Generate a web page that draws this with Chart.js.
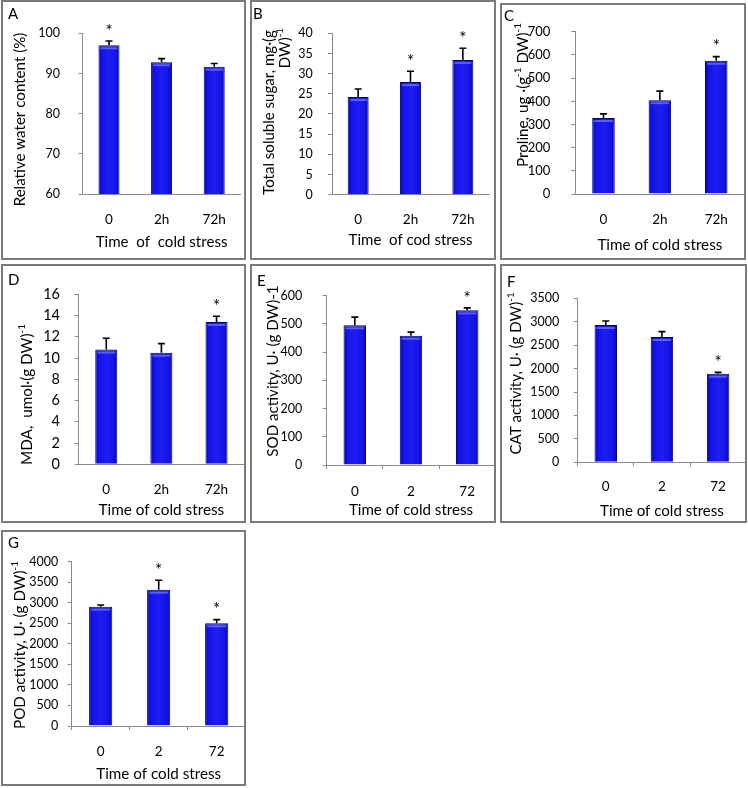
<!DOCTYPE html>
<html><head><meta charset="utf-8">
<script src="https://cdn.jsdelivr.net/npm/chart.js@4.4.1/dist/chart.umd.min.js"></script>
<style>
html,body{margin:0;padding:0;background:#fff;width:748px;height:788px;overflow:hidden;}
.panel{position:absolute;overflow:hidden;}
.frame{position:absolute;box-sizing:border-box;border:2px solid #7a7a7a;pointer-events:none;}
.letter{position:absolute;font-family:Lato,"Open Sans",sans-serif;font-size:15px;color:#000;line-height:1;}
canvas{position:absolute;left:0;top:0;}
</style></head><body>
<script>
// ---------- data ----------
const timeLabelsH = ['0', '2h', '72h'];
const timeLabelsN = ['0', '2', '72'];

const rwcMean = [97.0, 92.8, 91.7];
const rwcErr = [1.1, 0.9, 0.8];
const rwcSig = [true, false, false];
const rwcTicks = [60, 70, 80, 90, 100];

const sugarMean = [24.2, 27.9, 33.4];
const sugarErr = [2.0, 2.7, 2.9];
const sugarSig = [false, true, true];
const sugarTicks = [0, 5, 10, 15, 20, 25, 30, 35, 40];

const prolineMean = [328, 405, 575];
const prolineErr = [18, 39, 18];
const prolineSig = [false, false, true];
const prolineTicks = [0, 100, 200, 300, 400, 500, 600, 700];

const mdaMean = [10.8, 10.5, 13.4];
const mdaErr = [1.07, 0.86, 0.53];
const mdaSig = [false, false, true];
const mdaTicks = [0, 2, 4, 6, 8, 10, 12, 14, 16];

const sodMean = [495, 458, 548];
const sodErr = [29, 13, 9];
const sodSig = [false, false, true];
const sodTicks = [0, 100, 200, 300, 400, 500, 600];

const catMean = [2930, 2674, 1892];
const catErr = [85, 114, 28];
const catSig = [false, false, true];
const catTicks = [0, 500, 1000, 1500, 2000, 2500, 3000, 3500];

const podMean = [2906, 3320, 2500];
const podErr = [40, 227, 89];
const podSig = [false, true, true];
const podTicks = [0, 500, 1000, 1500, 2000, 2500, 3000, 3500, 4000];

// ---------- layout (absolute page coords) ----------
const FAM = 'Lato, "Open Sans", "DejaVu Sans", sans-serif';
const panels = [
  {letter:'A', lp:[8,6], rect:[1,0,245,260], plot:[82.7,33.3,240.5,194],
   cats:timeLabelsH, mean:rwcMean, err:rwcErr, sig:rwcSig, ticks:rwcTicks,
   yTickSize:12.5, yTickPad:18.7, xTickSize:13.5, xLabelY:220, xTicks:false,
   xTitle:'Time  of  cold stress', xTitleW:132, xTitleY:242,
   yTitle:[{segs:[['Relative water content (%)']], cx:20, yb:207, yt:32}]},
  {letter:'B', lp:[253,6], rect:[250,0,246,260], plot:[332,33.3,489,194.7],
   cats:timeLabelsH, mean:sugarMean, err:sugarErr, sig:sugarSig, ticks:sugarTicks,
   yTickSize:12.5, yTickPad:15.3, xTickSize:13.5, xLabelY:220, xTicks:false,
   xTitle:'Time  of cod stress', xTitleW:124, xTitleY:240,
   yTitle:[{segs:[['Total soluble sugar, mg·(g']], cx:268.7, yb:197, yt:28},
           {segs:[['DW)'],['-1',1]], cx:285.3, yt:28, anchorTop:true}]},
  {letter:'C', lp:[504,8], rect:[500,3,246,257], plot:[575.3,26,744.5,194],
   cats:timeLabelsH, mean:prolineMean, err:prolineErr, sig:prolineSig, ticks:prolineTicks,
   yTickSize:13, yTickPad:21, xTickSize:13.5, xLabelY:220, xTicks:false,
   xTitle:'Time of cold stress', xTitleW:125, xTitleY:245,
   yTitle:[{segs:[['Proline, ug ·(g'],['-1',1],[' DW)'],['-1',1]], cx:522.7, yb:177, yt:13}]},
  {letter:'D', lp:[8,272], rect:[1,264,245,259], plot:[78.7,294.3,244.3,464.3],
   cats:timeLabelsH, mean:mdaMean, err:mdaErr, sig:mdaSig, ticks:mdaTicks,
   yTickSize:14.5, yTickPad:14.7, xTickSize:13.5, xLabelY:490, xTicks:false,
   xTitle:'Time of cold stress', xTitleW:125.7, xTitleY:510,
   yTitle:[{segs:[['MDA,  umol·(g DW)'],['-1',1]], cx:26.7, yb:457, yt:332}]},
  {letter:'E', lp:[257,273], rect:[250,264,246,259], plot:[326.7,295.7,495.3,465],
   cats:timeLabelsN, mean:sodMean, err:sodErr, sig:sodSig, ticks:sodTicks,
   yTickSize:12.5, yTickPad:20.5, xTickSize:13.5, xLabelY:491.7, xTicks:true,
   xTitle:'Time of cold stress', xTitleW:124.3, xTitleY:510,
   yTitle:[{segs:[['SOD activity, U· (g DW)-1']], cx:273, yb:460, yt:282}]},
  {letter:'F', lp:[507,273.5], rect:[500,264,247,259], plot:[577.7,298.3,746.2,462.3],
   cats:timeLabelsN, mean:catMean, err:catErr, sig:catSig, ticks:catTicks,
   yTickSize:12.5, yTickPad:14.4, xTickSize:13.5, xLabelY:486.7, xTicks:true,
   xTitle:'Time of cold stress', xTitleW:124, xTitleY:511,
   yTitle:[{segs:[['CAT activity, U· (g DW)'],['-1',1]], cx:516, yb:459, yt:288}]},
  {letter:'G', lp:[8,534.5], rect:[1,530,245,256], plot:[71.7,561.7,245.7,726],
   cats:timeLabelsN, mean:podMean, err:podErr, sig:podSig, ticks:podTicks,
   yTickSize:12.5, yTickPad:9.4, xTickSize:13.5, xLabelY:751.7, xTicks:true,
   xTitle:'Time of cold stress', xTitleW:125, xTitleY:774,
   yTitle:[{segs:[['POD activity, U· (g DW)'],['-1',1]], cx:20, yb:728, yt:562}]}
];

// ---------- helpers ----------
const mctx = document.createElement('canvas').getContext('2d');
function textW(t, size){ mctx.font = size + 'px ' + FAM; return mctx.measureText(t).width; }
function segsW(segs, size){ return segs.reduce((s,g)=> s + textW(g[0], g[1] ? size*0.65 : size), 0); }

function makeFx(p, ox, oy, titleSize){
  return {
    id:'fx' + p.letter,
    afterDatasetsDraw(chart){
      const ctx = chart.ctx, y = chart.scales.y;
      const meta = chart.getDatasetMeta(0);
      meta.data.forEach((bar, i) => {
        const x = bar.x, top = bar.y, w = bar.width;
        ctx.save();
        ctx.fillStyle = 'rgba(150,150,255,0.55)';
        ctx.fillRect(x - w/2 + 2, top + 2, w - 4, 2);
        const yErr = y.getPixelForValue(p.mean[i] + p.err[i]);
        ctx.strokeStyle = '#000'; ctx.lineWidth = 1.6;
        ctx.beginPath();
        ctx.moveTo(x, top); ctx.lineTo(x, yErr);
        ctx.moveTo(x - 3.5, yErr); ctx.lineTo(x + 3.5, yErr);
        ctx.stroke();
        if (p.sig[i]) {
          const s = 17;
          ctx.fillStyle = '#000'; ctx.font = s + 'px ' + FAM;
          ctx.textAlign = 'center'; ctx.textBaseline = 'alphabetic';
          ctx.fillText('*', x, yErr - 14 + 0.57*s);
        }
        ctx.restore();
      });
    },
    afterDraw(chart){
      const ctx = chart.ctx;
      const size = titleSize;
      p.yTitle.forEach(line => {
        const total = segsW(line.segs, size);
        const cy = line.anchorTop ? (line.yt - oy + total/2) : ((line.yb + line.yt)/2 - oy);
        ctx.save();
        ctx.translate(line.cx - ox, cy);
        ctx.rotate(-Math.PI/2);
        ctx.fillStyle = '#000';
        ctx.textBaseline = 'middle'; ctx.textAlign = 'left';
        let x = -total/2;
        line.segs.forEach(g => {
          const fs = g[1] ? size*0.65 : size;
          ctx.font = fs + 'px ' + FAM;
          ctx.fillText(g[0], x, g[1] ? -size*0.33 : 0);
          x += ctx.measureText(g[0]).width;
        });
        ctx.restore();
      });
    }
  };
}

panels.forEach(p => {
  const [rx, ry, rw, rh] = p.rect;
  const holder = document.createElement('div');
  holder.className = 'panel';
  Object.assign(holder.style, {left: rx+'px', top: ry+'px', width: rw+'px', height: rh+'px'});
  const cv = document.createElement('canvas');
  cv.width = rw; cv.height = rh;
  holder.appendChild(cv);
  document.body.appendChild(holder);
  const frame = document.createElement('div');
  frame.className = 'frame';
  Object.assign(frame.style, {left: rx+'px', top: ry+'px', width: rw+'px', height: rh+'px'});
  document.body.appendChild(frame);
  const lt = document.createElement('div');
  lt.className = 'letter'; lt.textContent = p.letter;
  Object.assign(lt.style, {left: p.lp[0]+'px', top: p.lp[1]+'px'});
  document.body.appendChild(lt);

  const L = p.plot[0] - rx, T = p.plot[1] - ry, R = p.plot[2] - rx, B = p.plot[3] - ry;
  const tl = p.xTicks ? 4 : 0;
  const xPad = (p.xLabelY - ry) - B - tl - 0.6*p.xTickSize;
  const xts = 100 * p.xTitleW / textW(p.xTitle, 100);
  const tPad = rh - (p.xTitleY - ry) - 0.6*xts;
  const n = p.cats.length;

  new Chart(cv, {
    type: 'bar',
    data: {
      labels: p.cats,
      datasets: [{
        data: p.mean,
        backgroundColor(c){
          const ch = c.chart;
          if (c.dataIndex == null || !ch.chartArea) return '#1414e6';
          const xs = ch.scales.x;
          const cx = xs.getPixelForValue(c.dataIndex);
          const hw = xs.width / n * 0.2;
          const g = ch.ctx.createLinearGradient(cx - hw, 0, cx + hw, 0);
          g.addColorStop(0, '#0606b8');
          g.addColorStop(0.18, '#1414e8');
          g.addColorStop(0.5, '#1e1ef5');
          g.addColorStop(0.82, '#1414e8');
          g.addColorStop(1, '#0606b8');
          return g;
        },
        borderColor: '#00006e', borderWidth: 1,
        barPercentage: 0.4, categoryPercentage: 1
      }]
    },
    options: {
      responsive: false, animation: false, devicePixelRatio: 1,
      layout: {padding: {left: 0, top: T, right: rw - R, bottom: 0}},
      plugins: {legend: {display: false}, tooltip: {enabled: false}},
      scales: {
        x: {
          grid: {display: true, drawOnChartArea: false, drawTicks: p.xTicks, tickLength: 4, color: '#8a8a8a', offset: true},
          border: {display: true, color: '#8a8a8a', width: 1},
          ticks: {font: {family: FAM, size: p.xTickSize}, color: '#000', padding: xPad, maxRotation: 0, autoSkip: false},
          title: {display: true, text: p.xTitle, font: {family: FAM, size: xts}, color: '#000', padding: {top: 0, bottom: tPad}},
          afterFit(s){ s.height = rh - B; }
        },
        y: {
          min: p.ticks[0], max: p.ticks[p.ticks.length - 1],
          afterBuildTicks(s){ s.ticks = p.ticks.map(v => ({value: v})); },
          ticks: {font: {family: FAM, size: p.yTickSize}, color: '#000', padding: p.yTickPad,
                  callback: v => String(v)},
          grid: {display: true, drawOnChartArea: false, drawTicks: true, tickLength: 4, color: '#8a8a8a'},
          border: {display: true, color: '#8a8a8a', width: 1},
          afterFit(s){ s.width = L; }
        }
      }
    },
    plugins: [makeFx(p, rx, ry, xts)]
  });
});
</script>
</body></html>
